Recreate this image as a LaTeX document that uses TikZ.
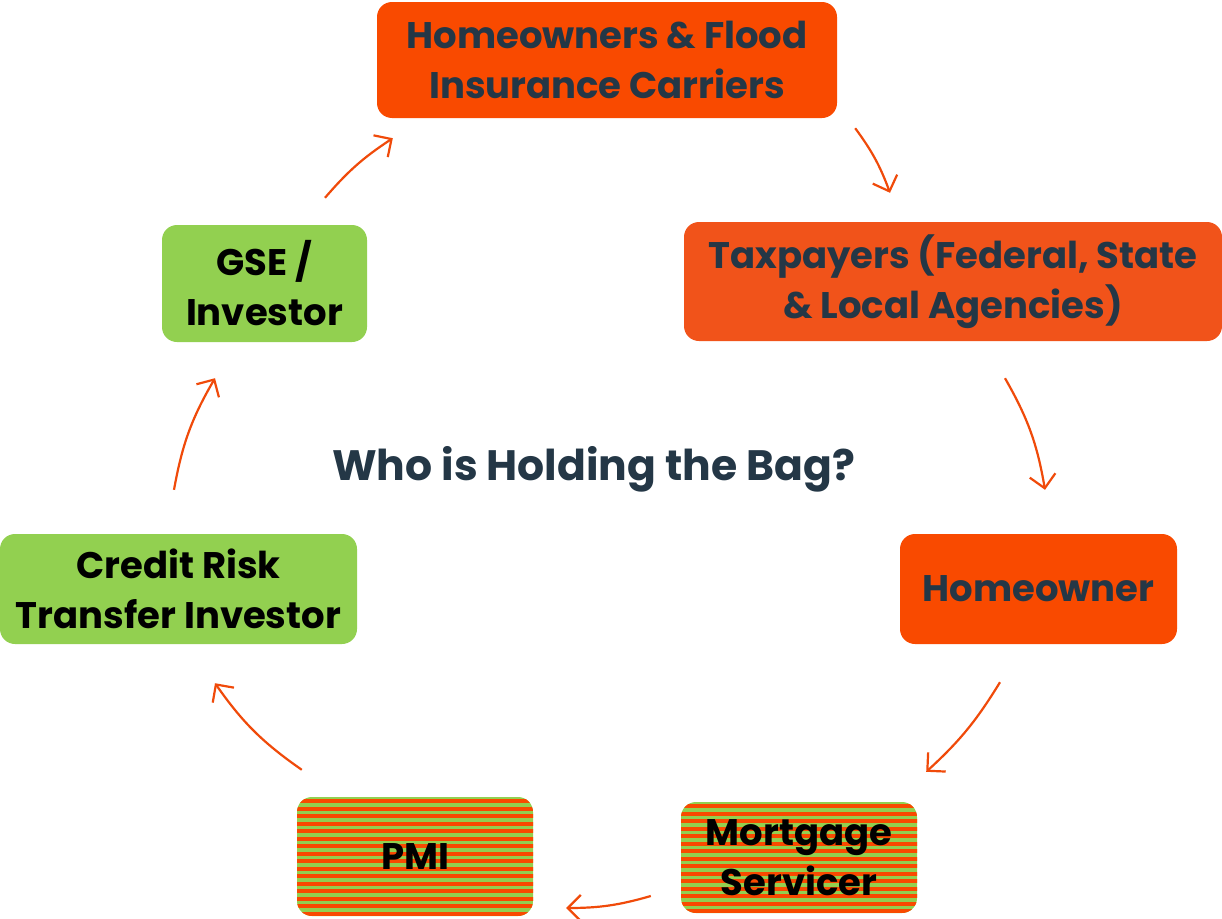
\documentclass[tikz,border=0pt]{standalone}
\usepackage{fontspec}
\setmainfont{Poppins}
\usepackage{xcolor}
\usepackage{tikz}
\usetikzlibrary{arrows.meta}

\definecolor{carrier}{HTML}{F94A00}
\definecolor{taxorange}{HTML}{F1531A}
\definecolor{investgreen}{HTML}{92D050}
\definecolor{navy}{HTML}{243746}
\definecolor{flowline}{HTML}{F04A0A}

\begin{document}
\begin{tikzpicture}[x=1pt,y=1pt,
  box/.style={rounded corners=15pt,align=center,inner sep=0pt,
    font=\fontsize{37}{50}\selectfont\bfseries},
  risk/.style={box,fill=carrier,text=navy},
  safe/.style={box,fill=investgreen,text=black},
  shared/.style={box,text=black,fill=investgreen,
    path picture={
      \foreach \k in {0,...,16}
        \fill[carrier,sharp corners] ([yshift=-2pt-\k*7.5pt]path picture bounding box.north west)
          rectangle ++(300,-4.2);
    }},
  flow/.style={flowline,line width=2.2pt,-{Straight Barb[length=13pt,width=26pt,line width=2.2pt]}}]

\useasboundingbox[fill=white] (0,0) rectangle (1222,-918);

% Boxes on the loss side
\node[risk,minimum width=460,minimum height=116] (carriers) at (607,-60)
  {Homeowners \& Flood\\Insurance Carriers};
\node[risk,fill=taxorange,minimum width=538,minimum height=119] (tax) at (953,-281.5)
  {Taxpayers (Federal, State\\\& Local Agencies)};
\node[risk,minimum width=277,minimum height=110] (owner) at (1038.5,-589) {Homeowner};

% Shared boxes (striped)
\node[shared,minimum width=236,minimum height=111] (servicer) at (799,-857.5)
  {Mortgage\\Servicer};
\node[shared,minimum width=236,minimum height=119] (pmi) at (415,-856.5) {PMI};

% Investor boxes
\node[safe,minimum width=357,minimum height=110] (crt) at (178.5,-589)
  {Credit Risk\\Transfer Investor};
\node[safe,minimum width=205,minimum height=117] (gse) at (264.5,-283.5)
  {GSE /\\Investor};

% Title in the middle
\node[anchor=base,text=navy,font=\fontsize{42.5}{50}\selectfont\bfseries] (title)
  at (593.5,-480) {Who is Holding the Bag?};

% Arrows round the loop
\draw[flow] ([xshift=60.5pt,yshift=27pt]gse.north) to[bend left=8]
  ([xshift=16pt,yshift=-20pt]carriers.south west);
\draw[flow] ([xshift=18pt,yshift=-10pt]carriers.south east) to[bend left=8]
  ([xshift=-63pt,yshift=29pt]tax.north);
\draw[flow] ([xshift=52pt,yshift=-37pt]tax.south) to[bend left=10]
  ([xshift=6.5pt,yshift=44pt]owner.north);
\draw[flow] ([xshift=-38.5pt,yshift=-38pt]owner.south) to[bend left=8]
  ([xshift=9pt,yshift=30pt]servicer.north east);
\draw[flow] ([xshift=-30pt,yshift=-38.5pt]servicer.west) to[bend left=8]
  ([xshift=33pt,yshift=-51.5pt]pmi.east);
\draw[flow] ([xshift=5pt,yshift=27pt]pmi.north west) to[bend left=10]
  ([xshift=36.5pt,yshift=-39pt]crt.south);
\draw[flow] ([xshift=-4.5pt,yshift=44pt]crt.north) to[bend left=10]
  ([xshift=-49.5pt,yshift=-36pt]gse.south);
\end{tikzpicture}
\end{document}
